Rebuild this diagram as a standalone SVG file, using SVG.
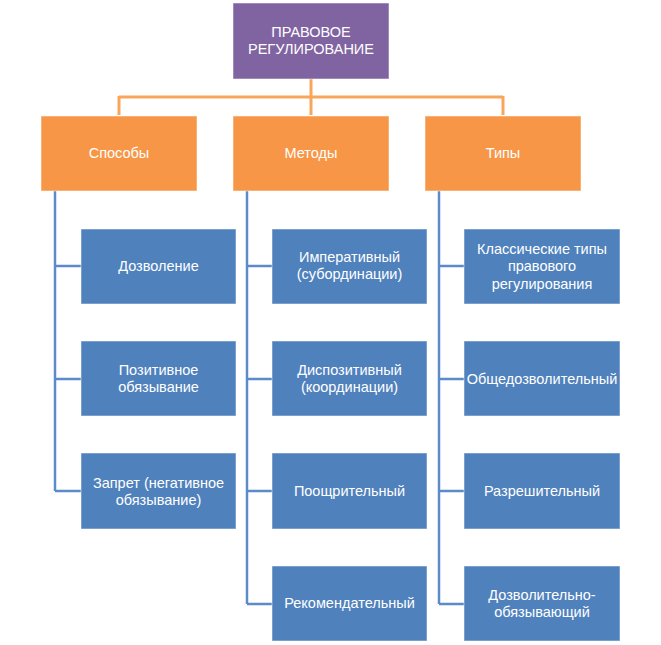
<svg xmlns="http://www.w3.org/2000/svg" width="661" height="645" viewBox="0 0 661 645">
<style>
.t{font-family:"Liberation Sans","DejaVu Sans",sans-serif;font-size:14.5px;fill:#fff;text-anchor:middle}
.p{fill:#8064A2;stroke:#fff;stroke-opacity:.5;stroke-width:1}
.o{fill:#F79646;stroke:#fff;stroke-opacity:.5;stroke-width:1}
.b{fill:#4F81BD;stroke:#fff;stroke-opacity:.5;stroke-width:1}
.co{fill:none;stroke:#F9A65A;stroke-width:3}
.cb{fill:none;stroke:#5B8BC9;stroke-width:2.5}
</style>
<rect width="661" height="645" fill="#fff"/>
<g id="connectors">
<path class="co" d="M311 79V115M119 97H503M119 96V115M503 96V115"/>
<path class="cb" d="M55 191V491M55 266H81M55 379H81M55 491H81"/>
<path class="cb" d="M247 191V604M247 266H272M247 379H272M247 491H272M247 604H272"/>
<path class="cb" d="M439 191V604M439 266H464M439 379H464M439 491H464M439 604H464"/>
</g>
<g id="root"><rect class="p" x="233" y="3" width="156" height="76"/><text class="t" x="311" y="37">ПРАВОВОЕ</text><text class="t" x="311" y="54">РЕГУЛИРОВАНИЕ</text></g>
<g id="sposoby"><rect class="o" x="41" y="116" width="156" height="75"/><text class="t" x="119" y="158">Способы</text></g>
<g id="metody"><rect class="o" x="233" y="116" width="156" height="75"/><text class="t" x="311" y="158">Методы</text></g>
<g id="tipy"><rect class="o" x="425" y="116" width="156" height="75"/><text class="t" x="503" y="158">Типы</text></g>
<g id="dozvolenie"><rect class="b" x="81" y="229" width="155" height="75"/><text class="t" x="158.5" y="271">Дозволение</text></g>
<g id="pozitivnoe"><rect class="b" x="81" y="341" width="155" height="75"/><text class="t" x="158.5" y="375">Позитивное</text><text class="t" x="158.5" y="392">обязывание</text></g>
<g id="zapret"><rect class="b" x="81" y="453" width="155" height="76"/><text class="t" x="158.5" y="488">Запрет (негативное</text><text class="t" x="158.5" y="505">обязывание)</text></g>
<g id="imperativ"><rect class="b" x="272" y="229" width="155" height="75"/><text class="t" x="349.5" y="262">Императивный</text><text class="t" x="349.5" y="279">(субординации)</text></g>
<g id="dispozitiv"><rect class="b" x="272" y="341" width="155" height="75"/><text class="t" x="349.5" y="375">Диспозитивный</text><text class="t" x="349.5" y="392">(координации)</text></g>
<g id="pooshchr"><rect class="b" x="272" y="453" width="155" height="76"/><text class="t" x="349.5" y="496">Поощрительный</text></g>
<g id="rekomend"><rect class="b" x="272" y="566" width="155" height="75"/><text class="t" x="349.5" y="608">Рекомендательный</text></g>
<g id="klassich"><rect class="b" x="464" y="229" width="156" height="75"/><text class="t" x="542" y="254">Классические типы</text><text class="t" x="542" y="271">правового</text><text class="t" x="542" y="289">регулирования</text></g>
<g id="obshchedozv"><rect class="b" x="464" y="341" width="156" height="75"/><text class="t" x="542" y="384">Общедозволительный</text></g>
<g id="razresh"><rect class="b" x="464" y="453" width="156" height="76"/><text class="t" x="542" y="496">Разрешительный</text></g>
<g id="dozvobyaz"><rect class="b" x="464" y="566" width="156" height="75"/><text class="t" x="542" y="600">Дозволительно-</text><text class="t" x="542" y="617">обязывающий</text></g>
</svg>
